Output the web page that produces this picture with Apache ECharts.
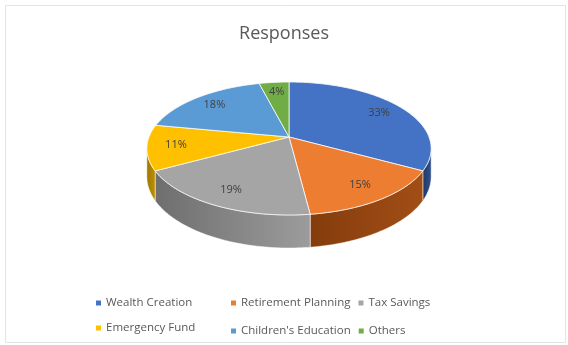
<!DOCTYPE html>
<html>
<head>
<meta charset="utf-8">
<script src="https://cdn.jsdelivr.net/npm/echarts@6/dist/echarts.min.js"></script>
<style>
html,body{margin:0;padding:0;background:#fff;}
#c{width:568px;height:345px;}
</style>
</head>
<body>
<div id="c"></div>
<script>
const categories = ['Wealth Creation', 'Retirement Planning', 'Tax Savings', 'Emergency Fund', "Children's Education", 'Others'];
const values = [33, 15, 19, 11, 18, 4];
const topColors = ['#4472C4', '#ED7D31', '#A5A5A5', '#FFC000', '#5B9BD5', '#70AD47'];
const sideColors = [['#1F3864', '#2F528F'], ['#843C0C', '#A24E16'], ['#6E6E6E', '#9C9C9C'], ['#9C7600', '#BF9000'], ['#2E5A86', '#41719C'], ['#3E6326', '#507E32']];
const legendCol1 = ['Wealth Creation', 'Emergency Fund'];
const legendRow1 = ['Retirement Planning', 'Tax Savings'];
const legendRow2 = ["Children's Education", 'Others'];

const FONT = '"Open Sans", "Noto Sans", sans-serif';
// simple perspective projection of a tilted disc
const CX = 289, CY = 137, R = 140, RS = 64.5, K = 0.173, H = 27.3;
const total = values.reduce((a, b) => a + b, 0);
const TH_R = Math.acos(-K), TH_L = Math.PI * 2 - TH_R;

function angles(i) {
  let s = 0;
  for (let k = 0; k < i; k++) s += values[k];
  return [s / total * Math.PI * 2, (s + values[i]) / total * Math.PI * 2];
}
function proj(r, t, h) {
  const u = r * Math.sin(t), v = r * Math.cos(t);
  const s = 1 / (1 + K * v);
  return [CX + R * u * s, CY - RS * v * s + (h || 0) * s];
}
function arcPts(a, b, h) {
  const pts = [];
  const n = Math.max(2, Math.ceil((b - a) / (Math.PI / 180)));
  for (let k = 0; k <= n; k++) pts.push(proj(1, a + (b - a) * k / n, h));
  return pts;
}

function renderTop(params, api) {
  const i = params.dataIndex;
  const [a, b] = angles(i);
  const pts = [proj(0, 0, 0)].concat(arcPts(a, b, 0));
  const m = (a + b) / 2;
  const lp = proj(0.8, m, 0);
  const pct = Math.round(api.value(0) / total * 100) + '%';
  return {
    type: 'group',
    children: [
      { type: 'polygon', shape: { points: pts }, style: { fill: topColors[i], stroke: 'rgba(255,255,255,0.75)', lineWidth: 1 } },
      { type: 'text', x: lp[0], y: lp[1], style: { text: pct, fill: '#404040', font: '11px ' + FONT, align: 'center', verticalAlign: 'middle' } }
    ]
  };
}

function renderSide(params, api) {
  const i = params.dataIndex;
  let [a, b] = angles(i);
  a = Math.max(a, TH_R);
  b = Math.min(b, TH_L);
  if (b <= a) return { type: 'group', children: [] };
  const top = arcPts(a, b, 0);
  const bottom = arcPts(a, b, H).reverse();
  const x0 = proj(1, a)[0], x1 = proj(1, b)[0];
  const c = sideColors[i];
  return {
    type: 'polygon',
    shape: { points: top.concat(bottom) },
    style: {
      fill: new echarts.graphic.LinearGradient(0, 0, 1, 0, [
        { offset: 0, color: x0 > x1 ? c[0] : c[1] },
        { offset: 1, color: x0 > x1 ? c[1] : c[0] }
      ]),
      stroke: 'rgba(255,255,255,0.6)', lineWidth: 0.8
    }
  };
}

const chart = echarts.init(document.getElementById('c'), null, { renderer: 'canvas' });
const legendBase = {
  icon: 'rect', itemWidth: 5, itemHeight: 5, selectedMode: false,
  textStyle: { color: '#595959', fontSize: 11.5, fontFamily: FONT }
};
chart.setOption({
  animation: false,
  backgroundColor: '#ffffff',
  title: {
    text: 'Responses', left: 'center', top: 20,
    textStyle: { color: '#595959', fontSize: 18, fontWeight: 'normal', fontFamily: FONT }
  },
  legend: [
    Object.assign({}, legendBase, { orient: 'vertical', left: 91, top: 292, itemGap: 13, data: legendCol1 }),
    Object.assign({}, legendBase, { orient: 'horizontal', left: 226, top: 292, itemGap: 8, data: legendRow1 }),
    Object.assign({}, legendBase, { orient: 'horizontal', left: 226, top: 320, itemGap: 8, data: legendRow2 })
  ],
  graphic: [{
    type: 'rect', shape: { x: 5.5, y: 5.5, width: 560, height: 337 },
    style: { fill: 'none', stroke: '#e3e3e3', lineWidth: 1 }, silent: true
  }],
  series: [
    {
      type: 'custom', name: 'sides', coordinateSystem: 'none', z: 1,
      renderItem: renderSide, data: values.map(v => [v]), silent: true
    },
    {
      type: 'custom', name: 'tops', coordinateSystem: 'none', z: 2,
      renderItem: renderTop, data: values.map(v => [v]), silent: true
    },
    {
      type: 'pie', name: 'legend', radius: [0, 0.01], center: [-50, -50], silent: true,
      label: { show: false }, labelLine: { show: false },
      data: categories.map((c, i) => ({ name: c, value: values[i], itemStyle: { color: topColors[i] } }))
    }
  ]
});
</script>
</body>
</html>
